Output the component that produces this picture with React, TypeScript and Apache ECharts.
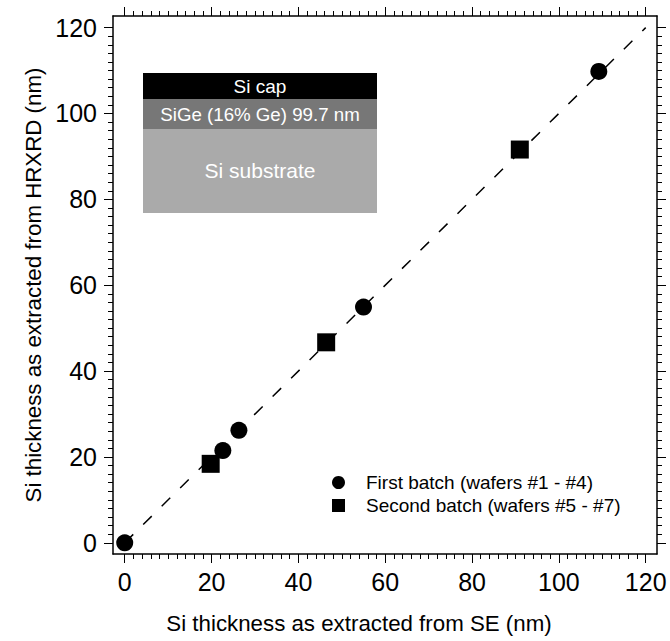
import React, { useEffect, useRef } from "react";
import * as echarts from "echarts";

// ---- data ----
const firstBatchName = "First batch (wafers #1 - #4)";
const secondBatchName = "Second batch (wafers #5 - #7)";
const firstBatchX = [0, 22.6, 26.3, 55.0, 109.2];
const firstBatchY = [0, 21.5, 26.2, 54.9, 109.8];
const secondBatchX = [19.8, 46.4, 91.0];
const secondBatchY = [18.4, 46.7, 91.6];
const guideX = [0, 120];
const guideY = [0, 120];

// ---- axes ----
const majorTicks = [0, 20, 40, 60, 80, 100, 120];
const minorTicks = [
  2, 4, 6, 8, 10, 12, 14, 16, 18, 22, 24, 26, 28, 30, 32, 34, 36, 38, 42, 44, 46, 48, 50, 52, 54, 56, 58,
  62, 64, 66, 68, 70, 72, 74, 76, 78, 82, 84, 86, 88, 90, 92, 94, 96, 98, 102, 104, 106, 108, 110, 112,
  114, 116, 118,
];
const xRange = [-2.7, 122.6];
const yRange = [-2.6, 122.7];
const xTitle = "Si thickness as extracted from SE (nm)";
const yTitle = "Si thickness as extracted from HRXRD (nm)";

// ---- inset labels ----
const insetCap = "Si cap";
const insetSiGe = "SiGe (16% Ge) 99.7 nm";
const insetSub = "Si substrate";

const FONT = "'Liberation Sans', Arial, Helvetica, sans-serif";

function axisSet(
  range: number[],
  side0: string,
  side1: string,
  labelMargin: number,
  name: string,
  nameGap: number,
  namePadding: number[]
) {
  const lineStyle = { color: "#000", width: 1.5 };
  const tickStyle = { color: "#000", width: 1 };
  const base = {
    type: "value",
    min: range[0],
    max: range[1],
    splitLine: { show: false },
    minorTick: { show: false },
  };
  return [
    {
      ...base,
      position: side0,
      axisLine: { show: true, onZero: false, lineStyle },
      axisTick: { show: true, customValues: majorTicks, length: 9, lineStyle: tickStyle },
      axisLabel: {
        show: true,
        customValues: majorTicks,
        fontSize: 25,
        color: "#000",
        fontFamily: FONT,
        margin: labelMargin,
      },
      name,
      nameLocation: "middle",
      nameGap,
      nameTextStyle: { fontSize: 22.3, color: "#000", fontFamily: FONT, padding: namePadding },
    },
    {
      ...base,
      position: side0,
      axisLine: { show: false, onZero: false },
      axisTick: { show: true, customValues: minorTicks, length: 5, lineStyle: tickStyle },
      axisLabel: { show: false },
    },
    {
      ...base,
      position: side1,
      axisLine: { show: true, onZero: false, lineStyle },
      axisTick: { show: true, customValues: majorTicks, length: 9, lineStyle: tickStyle },
      axisLabel: { show: false },
    },
    {
      ...base,
      position: side1,
      axisLine: { show: false, onZero: false },
      axisTick: { show: true, customValues: minorTicks, length: 5, lineStyle: tickStyle },
      axisLabel: { show: false },
    },
  ];
}

export default function App() {
  const ref = useRef<HTMLDivElement>(null);

  useEffect(() => {
    if (!ref.current) return;
    const chart = echarts.init(ref.current, null, { renderer: "svg" });

    const firstData = firstBatchX.map((x, i) => [x, firstBatchY[i]]);
    const secondData = secondBatchX.map((x, i) => [x, secondBatchY[i]]);
    const guideData = guideX.map((x, i) => [x, guideY[i]]);

    const insetX = 143;
    const insetW = 234;
    const textBase = {
      fill: "#fff",
      align: "center",
      verticalAlign: "middle",
      textAlign: "center",
      textVerticalAlign: "middle",
    };
    const option: any = {
      animation: false,
      backgroundColor: "#fff",
      grid: {
        left: 113,
        right: 13,
        top: 16,
        bottom: 87,
        containLabel: false,
        outerBoundsMode: "none",
      },
      xAxis: axisSet(xRange, "bottom", "top", 15, xTitle, 58, [0, 52, 0, 0]),
      yAxis: axisSet(yRange, "left", "right", 16, yTitle, 66, [0, 0, 0, 0]),
      legend: {
        data: [
          { name: firstBatchName, icon: "circle" },
          { name: secondBatchName, icon: "rect" },
        ],
        orient: "vertical",
        left: 332,
        top: 473,
        itemWidth: 13,
        itemHeight: 13,
        itemGap: 4,
        padding: 0,
        itemStyle: { opacity: 1 },
        textStyle: { fontSize: 19, color: "#000", fontFamily: FONT, padding: [0, 0, 0, 16] },
        selectedMode: false,
      },
      graphic: [
        {
          type: "group",
          children: [
            { type: "rect", shape: { x: insetX, y: 73, width: insetW, height: 26 }, style: { fill: "#000" } },
            { type: "rect", shape: { x: insetX, y: 99, width: insetW, height: 30 }, style: { fill: "#777777" } },
            { type: "rect", shape: { x: insetX, y: 129, width: insetW, height: 84 }, style: { fill: "#aaaaaa" } },
            {
              type: "text",
              style: { ...textBase, text: insetCap, x: insetX + insetW / 2, y: 86.5, font: `19px ${FONT}` },
            },
            {
              type: "text",
              style: { ...textBase, text: insetSiGe, x: insetX + insetW / 2, y: 114, font: `18.7px ${FONT}` },
            },
            {
              type: "text",
              style: { ...textBase, text: insetSub, x: insetX + insetW / 2, y: 170, font: `21px ${FONT}` },
            },
          ],
        },
      ],
      series: [
        {
          type: "line",
          name: "guide",
          xAxisIndex: 0,
          yAxisIndex: 0,
          data: guideData,
          symbol: "none",
          silent: true,
          z: 1,
          lineStyle: { color: "#000", width: 1.5, type: [12, 14] },
        },
        {
          type: "scatter",
          name: firstBatchName,
          xAxisIndex: 0,
          yAxisIndex: 0,
          data: firstData,
          symbol: "circle",
          symbolSize: 17,
          itemStyle: { color: "#000", opacity: 1 },
          z: 3,
        },
        {
          type: "scatter",
          name: secondBatchName,
          xAxisIndex: 0,
          yAxisIndex: 0,
          data: secondData,
          symbol: "rect",
          symbolSize: 18,
          itemStyle: { color: "#000", opacity: 1 },
          z: 3,
        },
      ],
    };

    chart.setOption(option);
    return () => chart.dispose();
  }, []);

  return (
    <div
      ref={ref}
      style={{ position: "absolute", left: 0, top: 0, width: 670, height: 641, background: "#fff" }}
    />
  );
}
